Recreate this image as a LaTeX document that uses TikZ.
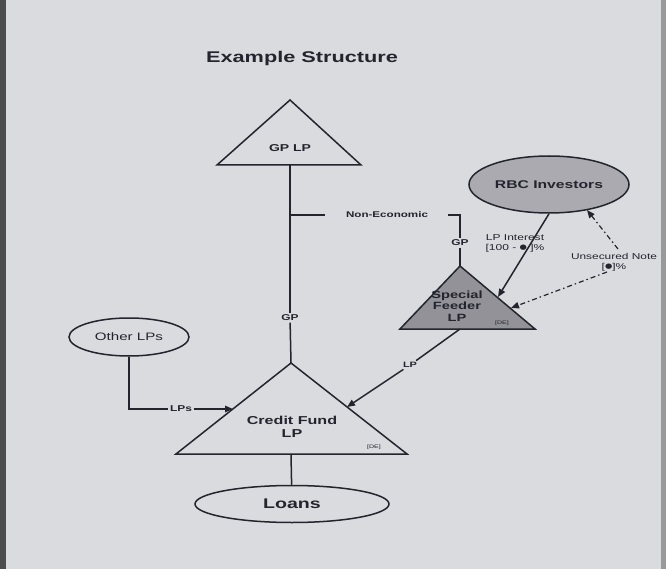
\documentclass[tikz,border=0pt]{standalone}
\usepackage{fontspec}
\setmainfont[FakeStretch=1.4]{Liberation Sans}
\newfontfamily\symfont[FakeStretch=1.2]{DejaVu Sans}
\usetikzlibrary{arrows.meta,shapes.geometric}
\definecolor{bg}{RGB}{218,219,223}
\definecolor{ink}{RGB}{36,36,46}
\definecolor{shadefill}{RGB}{146,146,152}
\definecolor{ellfill}{RGB}{170,170,176}
\newcommand{\blt}{\raisebox{0.8pt}{\symfont\fontsize{7}{7}\selectfont ●}}
\begin{document}
\begin{tikzpicture}[x=1pt,y=-1pt,
  ln/.style={draw=ink,line width=1.5pt},
  tri/.style={draw=ink,line width=1.5pt,line join=miter},
  arr/.style={draw=ink,line width=1.5pt,-{Triangle[length=8pt,width=6.5pt]}},
  dd/.style={draw=ink,line width=1.2pt,dash pattern=on 5pt off 3pt on 1.5pt off 3pt,-{Triangle[length=8pt,width=6.5pt]}},
  bl/.style={font=\bfseries\fontsize{#1}{#1}\selectfont\setlength\baselineskip{1.12\baselineskip},text=ink,inner sep=1.5pt,align=center},
  bl/.default=9,
  rg/.style={font=\fontsize{#1}{#1}\selectfont\setlength\baselineskip{1.15\baselineskip},text=ink,inner sep=1.5pt,align=center},
  rg/.default=8.5,
  tiny/.style={font=\fontsize{5}{5}\selectfont,text=ink,inner sep=0pt},
  oval/.style={ellipse,draw=ink,line width=1.5pt,inner sep=0pt}
]
\useasboundingbox (0,0) rectangle (666,569);
\fill[bg] (0,0) rectangle (666,569);
\fill[black!70] (0,0) rectangle (6,569);
\fill[black!40] (661,0) rectangle (666,569);

% title
\node[bl=15.5] (title) at (302,58) {Example Structure};

% GP LP triangle
\coordinate (gpA) at (290,100);
\coordinate (gpL) at (217,165);
\coordinate (gpR) at (361,165);
\coordinate (gpB) at (290,165);
\draw[tri] (gpA) -- (gpL) -- (gpR) -- cycle;
\node[bl=10] (gplp) at (290,148) {GP LP};

% Credit fund triangle
\coordinate (cfA) at (291,363);
\coordinate (cfL) at (176,454);
\coordinate (cfR) at (407,454);
\coordinate (cfB) at (291,454);
\draw[tri] (cfA) -- (cfL) -- (cfR) -- cycle;
\node[bl=11.5] (cf) at (292,427) {Credit Fund\\LP};
\node[tiny] (cfde) at (374,447) {[DE]};

% GP vertical line
\node[bl=8.5,fill=bg] (gpl) at (290,318) {GP};
\draw[ln] (gpB) -- (gpl);
\draw[ln] (gpl) -- (cfA);

% Special feeder triangle
\coordinate (sfA) at (460,266);
\coordinate (sfL) at (400,329);
\coordinate (sfR) at (535,329);
\coordinate (sfB) at (460,329);
\draw[tri,fill=shadefill] (sfA) -- (sfL) -- (sfR) -- cycle;
\node[bl=10.5] (sf) at (457,306) {Special\\Feeder\\LP};
\node[tiny] (sfde) at (502,323) {[DE]};

% Non-Economic
\coordinate (ne1) at (290,215);
\coordinate (ne2) at (325,215);
\node[bl=8.3] (ne) at (387,215) {Non-Economic};
\coordinate (ne3) at (448,215);
\coordinate (ne4) at (460,215);
\node[bl=8.5] (gp2) at (460,243) {GP};
\draw[ln] (ne1) -- (ne2);
\draw[ln] (ne3) -- (ne4) -- (gp2.north);
\draw[ln] (gp2.south) -- (sfA);

% RBC Investors
\node[oval,fill=ellfill,minimum width=160pt,minimum height=57pt,bl=11.2] (rbc) at (549,184.5) {RBC Investors};
\coordinate (lih) at (498,297);
\draw[arr] (rbc.south) -- (lih);
\node[rg=8.6] (li) at (515,243) {LP Interest\\{[100 - \blt{} ]\%}};

% Unsecured note
\node[rg=8.5] (un) at (614,262) {Unsecured Note\\{[\blt]\%}};
\coordinate (u1) at (618,249);
\coordinate (u1t) at (587,210);
\coordinate (u2) at (607,272);
\coordinate (u2t) at (511,308);
\draw[dd] (u1) -- (u1t);
\draw[dd] (u2) -- (u2t);

% Feeder to credit fund
\node[bl=7.8,fill=bg] (lpl) at (410,365) {LP};
\coordinate (cfh) at (347,407);
\draw[ln] (sfB) -- (lpl);
\draw[arr] (lpl) -- (cfh);

% Other LPs
\node[oval,minimum width=120pt,minimum height=38pt,rg=10.8] (ol) at (129,337) {Other LPs};
\node[bl=8.5] (lps) at (181,409) {LPs};
\coordinate (cfhl) at (233,409);
\draw[ln] (ol.south) |- (lps.west);
\draw[arr] (lps.east) -- (cfhl);

% Loans
\node[oval,minimum width=194pt,minimum height=37pt,bl=14] (loans) at (292,504) {Loans};
\draw[ln] (cfB) -- (loans);
\end{tikzpicture}
\end{document}
